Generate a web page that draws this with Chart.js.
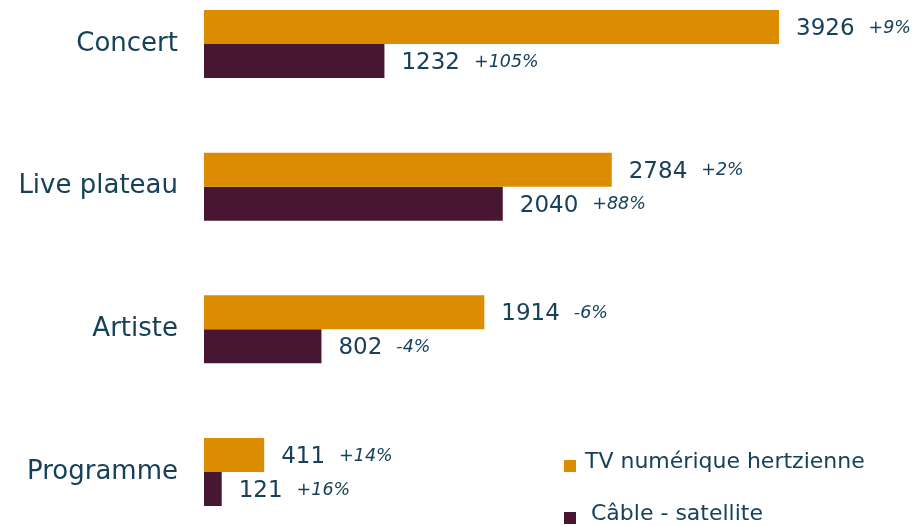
<!DOCTYPE html>
<html lang="fr">
<head>
<meta charset="utf-8">
<title>Audiences par genre</title>
<script src="https://cdn.jsdelivr.net/npm/chart.js@4/dist/chart.umd.min.js"></script>
<style>
  html, body { margin: 0; padding: 0; background: #fff; }
  #wrap { width: 912px; height: 526px; position: relative; }
</style>
</head>
<body>
<div id="wrap"><canvas id="genreChart"></canvas></div>
<script>
const categories = ['Concert', 'Live plateau', 'Artiste', 'Programme'];
const tvValues = [3926, 2784, 1914, 411];
const cableValues = [1232, 2040, 802, 121];
const tvChange = ['+9%', '+2%', '-6%', '+14%'];
const cableChange = ['+105%', '+88%', '-4%', '+16%'];

const TEXT = '#17415A';
const FONT = '"DejaVu Sans", sans-serif';

// value + evolution written to the right of each bar
const barLabels = {
    id: 'barLabels',
    afterDatasetsDraw(chart) {
        const ctx = chart.ctx;
        ctx.save();
        ctx.fillStyle = TEXT;
        ctx.textBaseline = 'middle';
        ctx.textAlign = 'left';
        chart.data.datasets.forEach((ds, di) => {
            const meta = chart.getDatasetMeta(di);
            meta.data.forEach((bar, i) => {
                const txt = String(ds.data[i]);
                let x = bar.x + 17;
                const y = bar.y + 2;
                ctx.font = '23px ' + FONT;
                ctx.fillText(txt, x, y);
                x += ctx.measureText(txt).width + 14;
                ctx.font = 'italic 17.5px ' + FONT;
                ctx.fillText(ds.change[i], x, y - 1);
            });
        });
        ctx.restore();
    }
};

// small square legend in the lower right corner
const cornerLegend = {
    id: 'cornerLegend',
    afterDraw(chart) {
        const ctx = chart.ctx;
        ctx.save();
        ctx.font = '22px ' + FONT;
        ctx.textBaseline = 'alphabetic';
        const rows = [{ y: 460, tx: 585 }, { y: 512, tx: 591 }];
        chart.data.datasets.forEach((ds, di) => {
            const r = rows[di];
            ctx.fillStyle = ds.backgroundColor;
            ctx.fillRect(564, r.y, 12, 12);
            ctx.fillStyle = TEXT;
            ctx.fillText(ds.label, r.tx, r.y + 8);
        });
        ctx.restore();
    }
};

new Chart(document.getElementById('genreChart'), {
    type: 'bar',
    data: {
        labels: categories,
        datasets: [{
            label: 'TV numérique hertzienne',
            data: tvValues,
            change: tvChange,
            backgroundColor: '#DB8C00',
            clip: false,
        }, {
            label: 'Câble - satellite',
            data: cableValues,
            change: cableChange,
            backgroundColor: '#461633',
            clip: false,
        }]
    },
    options: {
        indexAxis: 'y',
        responsive: true,
        maintainAspectRatio: false,
        animation: false,
        layout: { padding: { top: 44, bottom: 54, left: 0, right: 5 } },
        datasets: { bar: { categoryPercentage: 0.4766, barPercentage: 1 } },
        scales: {
            x: { display: false, min: 0, max: 4800 },
            y: {
                offset: false,
                grid: { display: false },
                border: { display: false },
                ticks: { color: TEXT, font: { family: FONT, size: 26 }, padding: 18 },
                afterFit(scale) { scale.width = 204; }
            }
        },
        plugins: {
            legend: { display: false },
            tooltip: { enabled: false }
        }
    },
    plugins: [barLabels, cornerLegend]
});
</script>
</body>
</html>
